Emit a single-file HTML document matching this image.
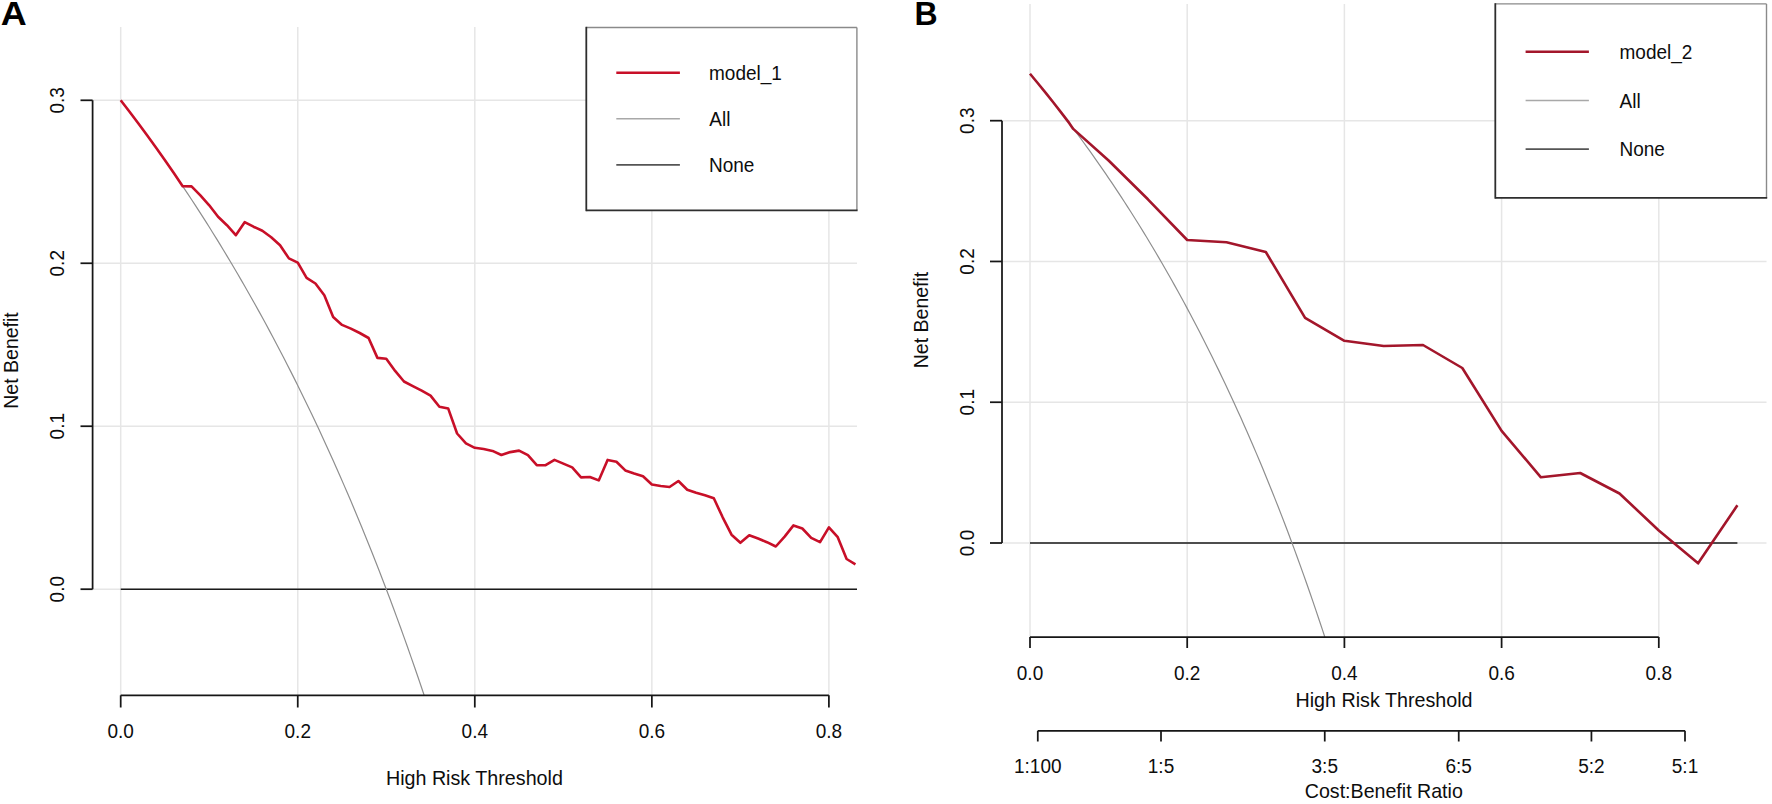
<!DOCTYPE html>
<html><head><meta charset="utf-8"><title>Decision curve analysis</title>
<style>html,body{margin:0;padding:0;background:#fff;}body{width:1772px;height:804px;overflow:hidden;}svg{display:block;}</style>
</head><body>
<svg width="1772" height="804" viewBox="0 0 1772 804">
<defs><clipPath id="ca"><rect x="92.6" y="27.0" width="764.4" height="668.3"/></clipPath><clipPath id="cb"><rect x="1002.0" y="4.0" width="764.5" height="633.0"/></clipPath></defs>
<rect width="1772" height="804" fill="#fff"/>
<g stroke="#e6e6e6" stroke-width="1.5"><line x1="120.70" y1="27.0" x2="120.70" y2="695.3"/><line x1="297.75" y1="27.0" x2="297.75" y2="695.3"/><line x1="474.80" y1="27.0" x2="474.80" y2="695.3"/><line x1="651.85" y1="27.0" x2="651.85" y2="695.3"/><line x1="828.90" y1="27.0" x2="828.90" y2="695.3"/><line x1="92.6" y1="589.20" x2="857.0" y2="589.20"/><line x1="92.6" y1="426.23" x2="857.0" y2="426.23"/><line x1="92.6" y1="263.26" x2="857.0" y2="263.26"/><line x1="92.6" y1="100.29" x2="857.0" y2="100.29"/></g>
<g clip-path="url(#ca)" fill="none" stroke-linejoin="round">
<line x1="120.7" y1="589.2" x2="857.0" y2="589.2" stroke="#1a1a1a" stroke-width="1.6"/>
<polyline points="120.70,100.29 124.24,104.87 127.78,109.49 131.32,114.15 134.86,118.84 138.41,123.57 141.95,128.34 145.49,133.15 149.03,138.00 152.57,142.89 156.11,147.82 159.65,152.79 163.19,157.81 166.73,162.86 170.27,167.96 173.82,173.11 177.36,178.29 180.90,183.52 184.44,188.80 187.98,194.12 191.52,199.49 195.06,204.90 198.60,210.37 202.14,215.88 205.68,221.44 209.23,227.04 212.77,232.70 216.31,238.41 219.85,244.17 223.39,249.99 226.93,255.85 230.47,261.77 234.01,267.75 237.55,273.77 241.09,279.86 244.64,286.00 248.18,292.20 251.72,298.46 255.26,304.77 258.80,311.15 262.34,317.58 265.88,324.08 269.42,330.64 272.96,337.27 276.50,343.95 280.05,350.71 283.59,357.53 287.13,364.41 290.67,371.37 294.21,378.39 297.75,385.49 301.29,392.65 304.83,399.89 308.37,407.20 311.91,414.59 315.46,422.05 319.00,429.59 322.54,437.21 326.08,444.90 329.62,452.68 333.16,460.54 336.70,468.48 340.24,476.51 343.78,484.62 347.32,492.82 350.87,501.11 354.41,509.49 357.95,517.96 361.49,526.52 365.03,535.18 368.57,543.93 372.11,552.78 375.65,561.73 379.19,570.79 382.73,579.94 386.28,589.20 389.82,598.57 393.36,608.04 396.90,617.63 400.44,627.32 403.98,637.13 407.52,647.06 411.06,657.10 414.60,667.27 418.14,677.56 421.69,687.97 425.23,698.51 428.77,709.18" stroke="#8e8e8e" stroke-width="1.2"/>
<polyline points="120.70,100.29 129.55,111.81 138.41,123.57 147.26,135.57 156.11,147.82 164.96,160.33 173.81,173.11 182.67,186.16 191.52,186.40 200.37,195.40 209.23,205.30 218.08,216.80 226.93,225.20 235.78,235.20 244.64,222.20 253.49,226.70 262.34,230.70 271.19,237.20 280.05,245.20 288.90,258.40 297.75,262.60 306.60,277.90 315.45,283.50 324.31,295.30 333.16,317.10 342.01,324.90 350.87,328.60 359.72,333.00 368.57,338.00 377.42,357.90 386.27,358.80 395.13,370.90 403.98,381.50 412.83,386.10 421.69,390.60 430.54,395.60 439.39,406.80 448.24,408.60 457.09,433.50 465.95,443.40 474.80,447.80 483.65,449.00 492.50,450.90 501.36,455.00 510.21,452.10 519.06,450.60 527.92,455.20 536.77,465.20 545.62,465.20 554.47,459.90 563.33,463.60 572.18,467.40 581.03,477.40 589.88,477.00 598.74,480.40 607.59,459.90 616.44,461.70 625.29,470.40 634.14,473.50 643.00,476.30 651.85,484.50 660.70,486.00 669.56,487.00 678.41,481.00 687.26,489.70 696.11,492.80 704.97,495.30 713.82,498.30 722.67,517.30 731.52,534.70 740.38,542.80 749.23,535.30 758.08,538.50 766.93,542.20 775.79,546.50 784.64,536.60 793.49,525.40 802.34,528.50 811.20,537.80 820.05,542.20 828.90,527.30 837.75,537.20 846.61,559.00 855.46,564.30" stroke="#c80f28" stroke-width="2.6"/>
</g>
<g stroke="#161616" stroke-width="1.75" fill="none"><line x1="92.6" y1="100.29" x2="92.6" y2="589.20"/><line x1="80.5" y1="589.20" x2="92.6" y2="589.20"/><line x1="80.5" y1="426.23" x2="92.6" y2="426.23"/><line x1="80.5" y1="263.26" x2="92.6" y2="263.26"/><line x1="80.5" y1="100.29" x2="92.6" y2="100.29"/><line x1="120.7" y1="695.3" x2="828.90" y2="695.3"/><line x1="120.70" y1="695.3" x2="120.70" y2="707.5"/><line x1="297.75" y1="695.3" x2="297.75" y2="707.5"/><line x1="474.80" y1="695.3" x2="474.80" y2="707.5"/><line x1="651.85" y1="695.3" x2="651.85" y2="707.5"/><line x1="828.90" y1="695.3" x2="828.90" y2="707.5"/></g>
<g font-family="Liberation Sans, Arial, sans-serif" font-size="19" fill="#0d0d0d"><text transform="translate(64.30 589.20) rotate(-90) scale(1 1.05)" text-anchor="middle">0.0</text><text transform="translate(64.30 426.23) rotate(-90) scale(1 1.05)" text-anchor="middle">0.1</text><text transform="translate(64.30 263.26) rotate(-90) scale(1 1.05)" text-anchor="middle">0.2</text><text transform="translate(64.30 100.29) rotate(-90) scale(1 1.05)" text-anchor="middle">0.3</text><text transform="translate(120.70 738.00) scale(1 1.05)" text-anchor="middle">0.0</text><text transform="translate(297.75 738.00) scale(1 1.05)" text-anchor="middle">0.2</text><text transform="translate(474.80 738.00) scale(1 1.05)" text-anchor="middle">0.4</text><text transform="translate(651.85 738.00) scale(1 1.05)" text-anchor="middle">0.6</text><text transform="translate(828.90 738.00) scale(1 1.05)" text-anchor="middle">0.8</text><text transform="translate(474.40 784.50) scale(1 1.05)" text-anchor="middle" textLength="177" lengthAdjust="spacingAndGlyphs">High Risk Threshold</text><text transform="translate(18.40 360.50) rotate(-90) scale(1 1.05)" text-anchor="middle" textLength="96.5" lengthAdjust="spacingAndGlyphs">Net Benefit</text></g>
<rect x="586.3" y="27.5" width="270.6" height="182.8" fill="#fff"/><line x1="586.3" y1="27.5" x2="856.9" y2="27.5" stroke="#8a8a8a" stroke-width="1.4"/><line x1="856.9" y1="27.5" x2="856.9" y2="210.3" stroke="#8a8a8a" stroke-width="1.4"/><line x1="586.3" y1="26.8" x2="586.3" y2="211.20000000000002" stroke="#2e2e2e" stroke-width="1.8"/><line x1="586.3" y1="210.3" x2="857.6" y2="210.3" stroke="#2e2e2e" stroke-width="1.8"/>
<line x1="616.3" y1="72.7" x2="679.9" y2="72.7" stroke="#c80f28" stroke-width="2.4"/>
<line x1="616.3" y1="118.7" x2="679.9" y2="118.7" stroke="#a8a8a8" stroke-width="1.5"/>
<line x1="616.3" y1="164.9" x2="679.9" y2="164.9" stroke="#555" stroke-width="1.8"/>
<g font-family="Liberation Sans, Arial, sans-serif" font-size="19" fill="#0d0d0d"><text transform="translate(709.00 80.10) scale(1 1.05)">model_1</text><text transform="translate(709.30 126.20) scale(1 1.05)">All</text><text transform="translate(709.00 171.80) scale(1 1.05)">None</text></g>
<text transform="translate(0.7 24.9) scale(1.09 1.01)" font-family="Liberation Sans, Arial, sans-serif" font-weight="bold" font-size="33" fill="#000">A</text>
<g stroke="#e6e6e6" stroke-width="1.5"><line x1="1030.00" y1="4.0" x2="1030.00" y2="637.0"/><line x1="1187.20" y1="4.0" x2="1187.20" y2="637.0"/><line x1="1344.40" y1="4.0" x2="1344.40" y2="637.0"/><line x1="1501.60" y1="4.0" x2="1501.60" y2="637.0"/><line x1="1658.80" y1="4.0" x2="1658.80" y2="637.0"/><line x1="1002.0" y1="543.00" x2="1766.5" y2="543.00"/><line x1="1002.0" y1="402.23" x2="1766.5" y2="402.23"/><line x1="1002.0" y1="261.46" x2="1766.5" y2="261.46"/><line x1="1002.0" y1="120.69" x2="1766.5" y2="120.69"/></g>
<g clip-path="url(#cb)" fill="none" stroke-linejoin="round">
<line x1="1030.0" y1="543.0" x2="1737.40" y2="543.0" stroke="#1a1a1a" stroke-width="1.6"/>
<polyline points="1030.00,73.77 1033.14,77.54 1036.29,81.33 1039.43,85.17 1042.58,89.03 1045.72,92.92 1048.86,96.84 1052.01,100.80 1055.15,104.79 1058.30,108.81 1061.44,112.87 1064.58,116.96 1067.73,121.08 1070.87,125.24 1074.02,129.44 1077.16,133.67 1080.30,137.94 1083.45,142.24 1086.59,146.58 1089.74,150.96 1092.88,155.37 1096.02,159.83 1099.17,164.32 1102.31,168.85 1105.46,173.43 1108.60,178.04 1111.74,182.70 1114.89,187.39 1118.03,192.13 1121.18,196.91 1124.32,201.74 1127.46,206.61 1130.61,211.52 1133.75,216.48 1136.90,221.49 1140.04,226.54 1143.18,231.64 1146.33,236.79 1149.47,241.98 1152.62,247.23 1155.76,252.52 1158.90,257.87 1162.05,263.26 1165.19,268.71 1168.34,274.22 1171.48,279.77 1174.62,285.38 1177.77,291.05 1180.91,296.77 1184.06,302.55 1187.20,308.38 1190.34,314.28 1193.49,320.23 1196.63,326.25 1199.78,332.32 1202.92,338.46 1206.06,344.66 1209.21,350.93 1212.35,357.26 1215.50,363.66 1218.64,370.12 1221.78,376.66 1224.93,383.26 1228.07,389.93 1231.22,396.68 1234.36,403.50 1237.50,410.39 1240.65,417.36 1243.79,424.40 1246.94,431.52 1250.08,438.73 1253.22,446.01 1256.37,453.37 1259.51,460.82 1262.66,468.35 1265.80,475.97 1268.94,483.67 1272.09,491.47 1275.23,499.35 1278.38,507.33 1281.52,515.40 1284.66,523.56 1287.81,531.83 1290.95,540.19 1294.10,548.65 1297.24,557.22 1300.38,565.89 1303.53,574.67 1306.67,583.55 1309.82,592.55 1312.96,601.65 1316.10,610.88 1319.25,620.22 1322.39,629.67 1325.54,639.25 1328.68,648.96" stroke="#8e8e8e" stroke-width="1.2"/>
<polyline points="1030.00,73.77 1037.86,83.25 1045.72,92.92 1053.58,102.79 1061.44,112.87 1069.30,123.16 1073.23,128.89 1108.60,160.50 1147.90,199.30 1187.20,240.00 1226.50,242.30 1265.80,252.00 1305.10,317.80 1344.40,340.80 1383.70,346.00 1423.00,345.00 1462.30,368.00 1501.60,430.90 1540.90,477.30 1580.20,473.00 1619.50,493.50 1658.80,530.50 1698.10,563.30 1737.40,505.30" stroke="#a3162b" stroke-width="2.6"/>
</g>
<g stroke="#161616" stroke-width="1.75" fill="none"><line x1="1002.0" y1="120.69" x2="1002.0" y2="543.00"/><line x1="990" y1="543.00" x2="1002.0" y2="543.00"/><line x1="990" y1="402.23" x2="1002.0" y2="402.23"/><line x1="990" y1="261.46" x2="1002.0" y2="261.46"/><line x1="990" y1="120.69" x2="1002.0" y2="120.69"/><line x1="1030.0" y1="637.0" x2="1658.80" y2="637.0"/><line x1="1030.00" y1="637.0" x2="1030.00" y2="648"/><line x1="1187.20" y1="637.0" x2="1187.20" y2="648"/><line x1="1344.40" y1="637.0" x2="1344.40" y2="648"/><line x1="1501.60" y1="637.0" x2="1501.60" y2="648"/><line x1="1658.80" y1="637.0" x2="1658.80" y2="648"/><line x1="1037.78" y1="730.8" x2="1685.00" y2="730.8"/><line x1="1037.78" y1="730.8" x2="1037.78" y2="741.5"/><line x1="1161.00" y1="730.8" x2="1161.00" y2="741.5"/><line x1="1324.75" y1="730.8" x2="1324.75" y2="741.5"/><line x1="1458.73" y1="730.8" x2="1458.73" y2="741.5"/><line x1="1591.43" y1="730.8" x2="1591.43" y2="741.5"/><line x1="1685.00" y1="730.8" x2="1685.00" y2="741.5"/></g>
<g font-family="Liberation Sans, Arial, sans-serif" font-size="19" fill="#0d0d0d"><text transform="translate(973.90 543.00) rotate(-90) scale(1 1.05)" text-anchor="middle">0.0</text><text transform="translate(973.90 402.23) rotate(-90) scale(1 1.05)" text-anchor="middle">0.1</text><text transform="translate(973.90 261.46) rotate(-90) scale(1 1.05)" text-anchor="middle">0.2</text><text transform="translate(973.90 120.69) rotate(-90) scale(1 1.05)" text-anchor="middle">0.3</text><text transform="translate(1030.00 679.70) scale(1 1.05)" text-anchor="middle">0.0</text><text transform="translate(1187.20 679.70) scale(1 1.05)" text-anchor="middle">0.2</text><text transform="translate(1344.40 679.70) scale(1 1.05)" text-anchor="middle">0.4</text><text transform="translate(1501.60 679.70) scale(1 1.05)" text-anchor="middle">0.6</text><text transform="translate(1658.80 679.70) scale(1 1.05)" text-anchor="middle">0.8</text><text transform="translate(1037.78 772.90) scale(1 1.05)" text-anchor="middle">1:100</text><text transform="translate(1161.00 772.90) scale(1 1.05)" text-anchor="middle">1:5</text><text transform="translate(1324.75 772.90) scale(1 1.05)" text-anchor="middle">3:5</text><text transform="translate(1458.73 772.90) scale(1 1.05)" text-anchor="middle">6:5</text><text transform="translate(1591.43 772.90) scale(1 1.05)" text-anchor="middle">5:2</text><text transform="translate(1685.00 772.90) scale(1 1.05)" text-anchor="middle">5:1</text><text transform="translate(1384.00 707.00) scale(1 1.05)" text-anchor="middle" textLength="177" lengthAdjust="spacingAndGlyphs">High Risk Threshold</text><text transform="translate(1383.80 798.00) scale(1 1.05)" text-anchor="middle" textLength="158" lengthAdjust="spacingAndGlyphs">Cost:Benefit Ratio</text><text transform="translate(927.50 320.00) rotate(-90) scale(1 1.05)" text-anchor="middle" textLength="96.5" lengthAdjust="spacingAndGlyphs">Net Benefit</text></g>
<rect x="1495.3" y="3.9" width="271.2" height="193.9" fill="#fff"/><line x1="1495.3" y1="3.9" x2="1766.5" y2="3.9" stroke="#8a8a8a" stroke-width="1.4"/><line x1="1766.5" y1="3.9" x2="1766.5" y2="197.8" stroke="#8a8a8a" stroke-width="1.4"/><line x1="1495.3" y1="3.2" x2="1495.3" y2="198.70000000000002" stroke="#2e2e2e" stroke-width="1.8"/><line x1="1495.3" y1="197.8" x2="1767.2" y2="197.8" stroke="#2e2e2e" stroke-width="1.8"/>
<line x1="1525.6" y1="51.7" x2="1588.9" y2="51.7" stroke="#a3162b" stroke-width="2.6"/>
<line x1="1525.6" y1="100.6" x2="1588.9" y2="100.6" stroke="#a8a8a8" stroke-width="1.5"/>
<line x1="1525.6" y1="149.2" x2="1588.9" y2="149.2" stroke="#555" stroke-width="1.8"/>
<g font-family="Liberation Sans, Arial, sans-serif" font-size="19" fill="#0d0d0d"><text transform="translate(1619.50 59.20) scale(1 1.05)">model_2</text><text transform="translate(1619.50 107.60) scale(1 1.05)">All</text><text transform="translate(1619.50 156.00) scale(1 1.05)">None</text></g>
<text transform="translate(914.6 25.2) scale(0.97 1.02)" font-family="Liberation Sans, Arial, sans-serif" font-weight="bold" font-size="33" fill="#000">B</text>
</svg>
</body></html>
